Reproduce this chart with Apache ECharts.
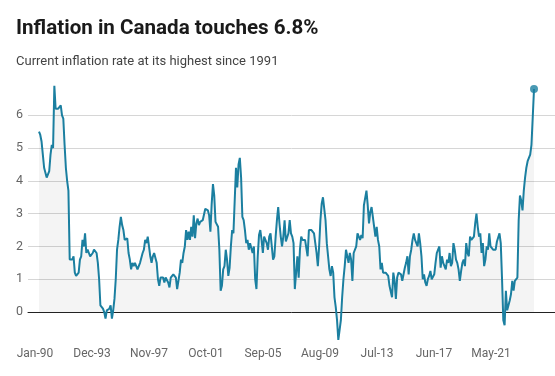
<!DOCTYPE html>
<html>
<head>
<meta charset="utf-8">
<script src="https://cdn.jsdelivr.net/npm/echarts@6.0.0/dist/echarts.min.js"></script>
<style>
  html, body { margin: 0; padding: 0; background: #fff; }
  #chart { width: 555px; height: 376px; }
</style>
</head>
<body>
<div id="chart"></div>
<script>
const titleText = 'Inflation in Canada touches 6.8%';
const subtitleText = 'Current inflation rate at its highest since 1991';

// monthly y/y CPI, Jan 1990 .. Apr 2022 (one row per year)
const inflation = [
  5.5, 5.4, 5.2, 4.8, 4.4, 4.4, 4.1, 4.1, 4.3, 4.8, 5.1, 5.0,
  6.9, 6.2, 6.2, 6.2, 6.2, 6.3, 6.0, 5.9, 5.1, 4.4, 4.0, 3.7,
  1.6, 1.6, 1.6, 1.7, 1.2, 1.1, 1.1, 1.2, 1.6, 1.7, 2.2, 2.0,
  2.4, 1.8, 1.9, 1.8, 1.7, 1.7, 1.8, 1.9, 1.9, 1.8, 1.5, 1.0,
  0.2, 0.2, 0.1, 0.0, -0.2, 0.05, 0.1, 0.1, 0.2, -0.2, 0.05, 0.4,
  1.0, 1.9, 2.2, 2.6, 2.9, 2.65, 2.5, 2.2, 2.2, 2.25, 1.8, 1.6,
  1.3, 1.5, 1.4, 1.5, 1.45, 1.3, 1.4, 1.5, 1.5, 1.8, 1.9, 2.2,
  2.1, 2.3, 2.0, 1.7, 1.5, 1.7, 1.8, 1.75, 1.5, 1.0, 0.8, 1.05,
  1.0, 1.05, 0.9, 1.05, 1.0, 0.9, 0.75, 1.05, 1.1, 1.15, 1.2, 1.05,
  0.7, 0.7, 1.2, 1.6, 1.5, 1.8, 2.0, 2.5, 2.2, 2.45, 2.2, 2.6,
  2.3, 2.95, 2.25, 2.7, 2.85, 2.65, 2.75, 2.8, 2.8, 2.8, 3.15, 3.2,
  3.1, 2.95, 2.45, 3.3, 3.9, 3.55, 2.75, 2.7, 2.6, 1.9, 0.65, 0.8,
  1.3, 1.4, 1.9, 1.6, 1.1, 1.35, 2.0, 2.5, 2.4, 2.35, 4.4, 3.8,
  4.5, 4.7, 4.1, 2.9, 2.8, 2.5, 2.1, 2.2, 1.9, 2.1, 2.15, 1.8,
  2.0, 1.0, 0.7, 1.7, 2.35, 2.5, 2.2, 1.8, 2.3, 2.35, 2.1, 1.9,
  2.3, 2.4, 2.0, 1.6, 1.7, 2.3, 2.8, 3.2, 2.7, 2.3, 2.0, 2.3,
  2.8, 2.15, 2.2, 2.4, 2.8, 2.4, 2.3, 2.1, 0.7, 1.2, 1.7, 1.05,
  1.9, 2.3, 2.2, 2.2, 2.2, 2.2, 1.7, 2.5, 2.45, 2.5, 2.5, 2.4,
  2.1, 1.8, 1.4, 2.0, 2.8, 3.3, 3.5, 3.45, 2.8, 2.1, 1.7, 1.3,
  1.1, 1.4, 1.2, 0.45, 0.15, -0.25, -0.85, -0.9, -0.25, 0.45, 1.0, 1.4,
  1.9, 1.7, 1.5, 1.8, 1.6, 0.95, 1.8, 1.8, 2.0, 2.4, 2.3, 2.2,
  2.35, 2.25, 3.25, 3.3, 3.7, 3.25, 2.7, 3.05, 3.2, 2.9, 2.9, 2.3,
  2.6, 2.2, 2.0, 1.3, 1.5, 1.2, 1.2, 1.2, 1.2, 1.1, 0.8, 0.75,
  0.45, 1.2, 0.95, 0.4, 1.05, 1.2, 1.25, 1.15, 0.95, 1.15, 1.35, 1.5,
  1.7, 1.15, 1.7, 1.9, 2.2, 2.4, 2.2, 2.1, 2.0, 2.4, 2.1, 1.7,
  1.0, 1.15, 0.9, 0.8, 1.0, 1.1, 1.25, 1.0, 0.95, 1.15, 1.5, 1.8,
  1.9, 2.0, 1.35, 1.7, 1.5, 1.5, 1.3, 1.6, 1.5, 1.8, 1.4, 1.5,
  2.1, 1.9, 1.6, 1.5, 1.3, 0.95, 1.25, 1.5, 1.6, 1.4, 2.1, 1.8,
  1.7, 2.3, 2.2, 2.2, 2.3, 2.7, 3.0, 2.6, 2.3, 2.4, 1.8, 2.1,
  1.4, 1.6, 2.0, 1.9, 2.4, 2.0, 1.95, 1.9, 1.9, 1.9, 2.15, 2.2,
  2.4, 2.1, 1.0, -0.25, -0.4, 0.65, 0.05, 0.05, 0.35, 0.55, 0.95, 0.65,
  0.95, 1.0, 1.05, 2.8, 3.55, 3.4, 3.1, 3.7, 4.1, 4.4, 4.6, 4.7,
  4.8, 5.1, 5.95, 6.8
];

const tickLabels = ['Jan-90', 'Dec-93', 'Nov-97', 'Oct-01', 'Sep-05', 'Aug-09', 'Jul-13', 'Jun-17', 'May-21'];

const lineColor = '#1b7fa0';
const labelColor = '#666';

const chart = echarts.init(document.getElementById('chart'));

const points = inflation.map((v, i) => [i, v]);
const lastPoint = points[points.length - 1];

chart.setOption({
  animation: false,
  textStyle: { fontFamily: 'Roboto' },
  title: [
    {
      text: titleText, left: 16, top: 18, padding: 0,
      textStyle: { fontFamily: 'Roboto', fontSize: 20.6, fontWeight: 'bold', color: '#1a1a1a' }
    },
    {
      text: subtitleText, left: 16, top: 55, padding: 0,
      textStyle: { fontFamily: 'Roboto', fontSize: 13, fontWeight: 'normal', color: '#444' }
    }
  ],
  grid: [
    { left: 28, right: 0, top: 82.5, bottom: 31.2 },
    { left: 35, right: 64, bottom: 32, height: 1 }
  ],
  xAxis: [
    {
      type: 'value', gridIndex: 0, min: -8.6, max: 403.4,
      axisLine: { onZero: true, lineStyle: { color: '#222', width: 1 } },
      axisTick: { show: false },
      axisLabel: { show: false },
      splitLine: { show: false }
    },
    {
      type: 'category', gridIndex: 1, data: tickLabels, boundaryGap: false,
      axisLine: { show: false },
      axisTick: { show: false },
      axisLabel: { interval: 0, color: labelColor, fontSize: 12, margin: 4 }
    }
  ],
  yAxis: [
    {
      type: 'value', gridIndex: 0, min: -1, max: 7, interval: 1,
      axisLine: { show: false },
      axisTick: { show: false },
      axisLabel: {
        color: labelColor, fontSize: 12.5, margin: 5,
        formatter: v => (v < 0 || v > 6) ? '' : String(v)
      },
      splitLine: { showMinLine: false, showMaxLine: false, lineStyle: { color: '#d6d6d6', width: 1 } }
    },
    { type: 'value', gridIndex: 1, show: false }
  ],
  series: [
    {
      type: 'line',
      xAxisIndex: 0, yAxisIndex: 0,
      data: points,
      showSymbol: false,
      symbol: 'none',
      lineStyle: { color: lineColor, width: 2 },
      areaStyle: { color: 'rgba(0,0,0,0.06)' },
      z: 3
    },
    {
      type: 'scatter',
      xAxisIndex: 0, yAxisIndex: 0,
      data: [lastPoint],
      symbol: 'circle',
      symbolSize: 8,
      itemStyle: { color: lineColor },
      z: 4
    }
  ]
});
</script>
</body>
</html>
